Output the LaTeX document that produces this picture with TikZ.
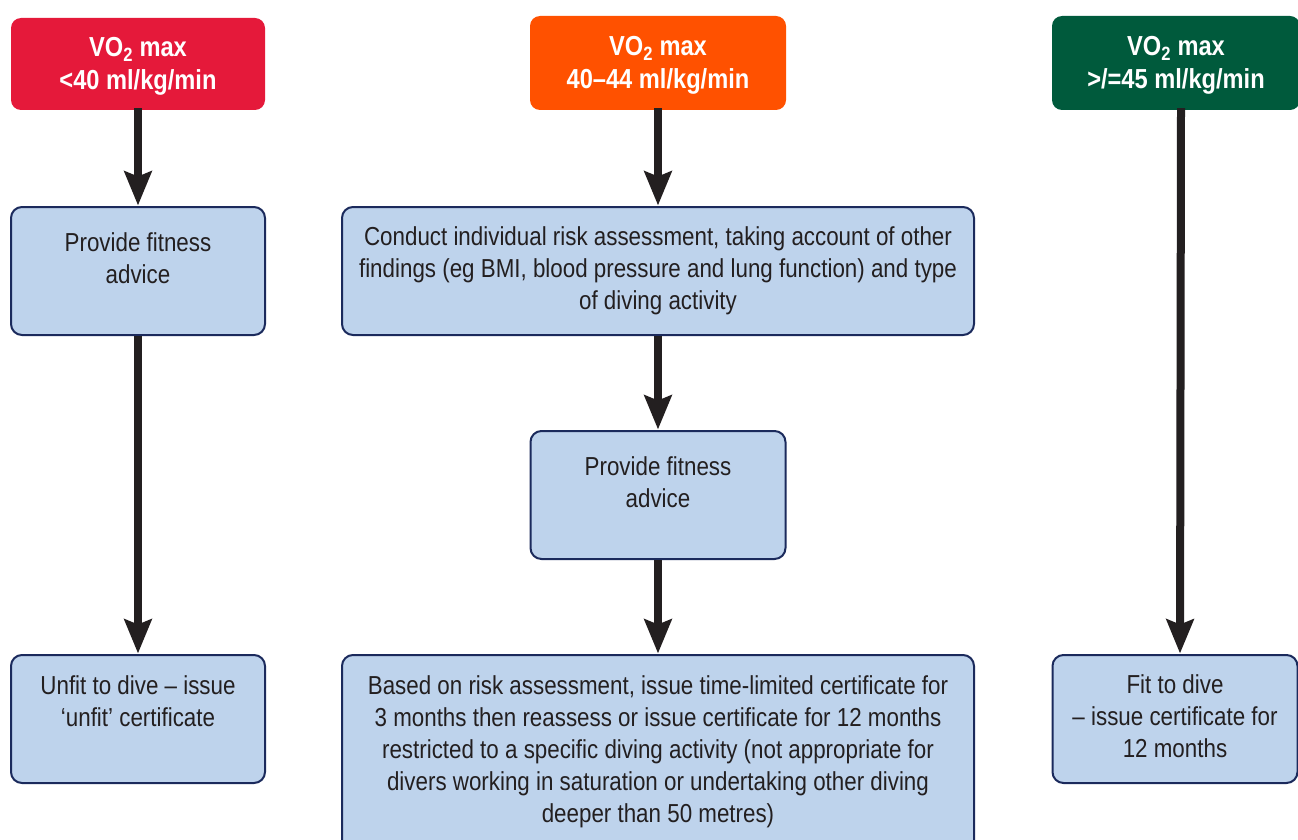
\documentclass[tikz,border=0pt]{standalone}
\usepackage{fontspec}
\setmainfont{Liberation Sans}[FakeStretch=0.86]
\usetikzlibrary{arrows.meta}
\definecolor{hred}{HTML}{E5193A}
\definecolor{horange}{HTML}{FF5100}
\definecolor{hgreen}{HTML}{005A3C}
\definecolor{bfill}{HTML}{BED3EC}
\definecolor{bdraw}{HTML}{1B2A5C}
\definecolor{arrcol}{HTML}{231F20}
\tikzset{
  head/.style={rounded corners=10pt, inner sep=0pt},
  headtxt/.style={text=white, align=center,
    font=\fontsize{27.5}{33}\selectfont\bfseries, inner sep=0pt},
  box/.style={rounded corners=11pt, fill=bfill, draw=bdraw, line width=2pt, inner sep=0pt},
  txt/.style={align=center, font=\fontsize{26}{32}\selectfont, text=arrcol, inner sep=0pt},
  arr/.style={draw=arrcol, line width=8pt,
    -{Stealth[width=27pt,length=34pt,inset=5pt,fill=arrcol]}, shorten >=0.5pt}
}
\begin{document}
\begin{tikzpicture}[x=1pt,y=-1pt]
\useasboundingbox (0,0) rectangle (1298,840);
\clip (0,0) rectangle (1298,840);
% headers
\node[head, fill=hred, minimum width=254pt, minimum height=92pt] (h1) at (138,64) {};
\node[headtxt] (h1t) at (138,66.5) {VO\textsubscript{2} max\\<40 ml/kg/min};
\node[head, fill=horange, minimum width=256pt, minimum height=94pt] (h2) at (658,63) {};
\node[headtxt] (h2t) at (658,65.5) {VO\textsubscript{2} max\\40–44 ml/kg/min};
\node[head, fill=hgreen, minimum width=248pt, minimum height=94pt] (h3) at (1176,63) {};
\node[headtxt] (h3t) at (1176,65.5) {VO\textsubscript{2} max\\>/=45 ml/kg/min};
% boxes
\node[box, minimum width=254pt, minimum height=128pt] (b1) at (138,271) {};
\node[txt] (b1t) at (138,258) {Provide fitness\\advice};
\node[box, minimum width=632pt, minimum height=128pt] (b2) at (658,271) {};
\node[txt] (b2t) at (658,271) {Conduct individual risk assessment, taking account of other\\findings (eg BMI, blood pressure and lung function) and type\\of diving activity};
\node[box, minimum width=255pt, minimum height=128pt] (b3) at (658,495) {};
\node[txt] (b3t) at (658,482) {Provide fitness\\advice};
\node[box, minimum width=254pt, minimum height=128pt] (b4) at (138,719) {};
\node[txt] (b4t) at (138,701) {Unfit to dive – issue\\‘unfit’ certificate};
\node[box, minimum width=632pt, minimum height=210pt] (b5) at (658,760) {};
\node[txt] (b5t) at (658,751.5)
  {Based on risk assessment, issue time-limited certificate for\\3 months then reassess or issue certificate for 12 months\\restricted to a specific diving activity (not appropriate for\\divers working in saturation or undertaking other diving\\deeper than 50 metres)};
\node[box, minimum width=245pt, minimum height=128pt] (b6) at (1175,719) {};
\node[txt] (b6t) at (1175,716.5) {Fit to dive\\– issue certificate for\\12 months};
% arrows
\draw[arr] ([yshift=2pt]h1.south) -- (b1.north);
\draw[arr] ([yshift=2pt]h2.south) -- (b2.north);
\draw[arr] ([xshift=5pt,yshift=2pt]h3.south) -- ([xshift=5pt]b6.north);
\draw[arr] (b1.south) -- (b4.north);
\draw[arr] (b2.south) -- (b3.north);
\draw[arr] (b3.south) -- (b5.north);
\end{tikzpicture}
\end{document}
